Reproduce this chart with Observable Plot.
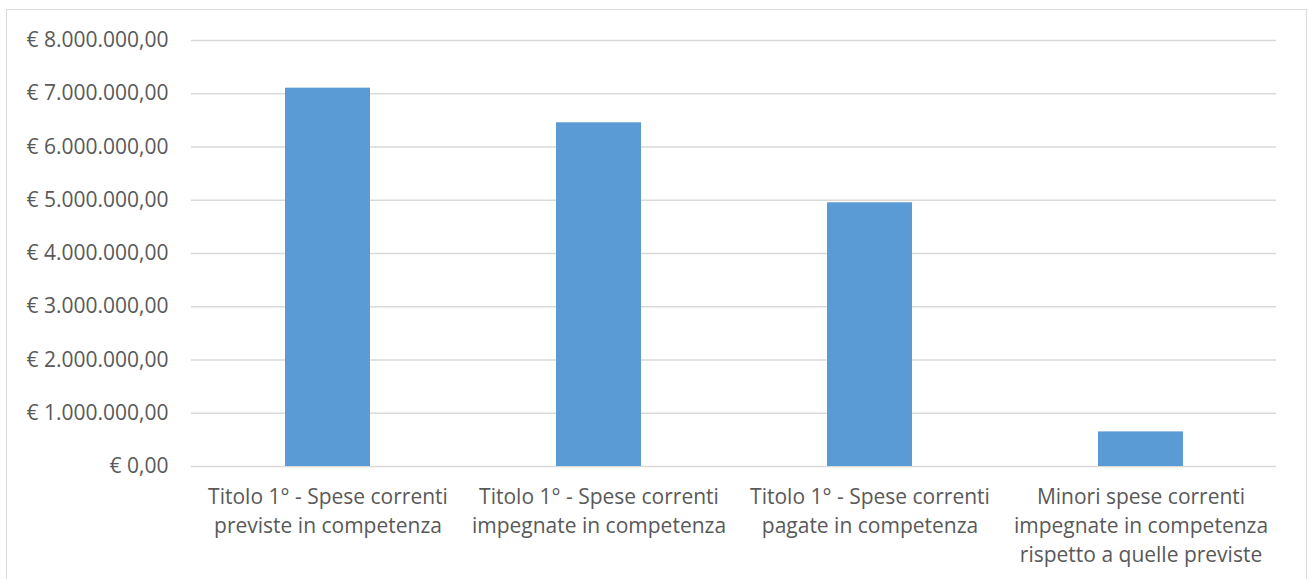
<!DOCTYPE html>
<html><head><meta charset="utf-8">
<script src="https://cdn.jsdelivr.net/npm/d3@7"></script>
<script src="https://cdn.jsdelivr.net/npm/@observablehq/plot@0.6"></script>
<style>
body{margin:0;background:#fff;}
#wrap{position:relative;width:1309px;height:579px;overflow:hidden;background:#fff;}
#border{position:absolute;left:6px;top:9px;width:1301px;height:620px;border:1px solid #d9d9d9;box-sizing:border-box;}
#chart{position:absolute;left:0;top:0;}
</style></head><body>
<div id="wrap"><div id="border"></div><div id="chart"></div></div>
<script>
const categories = [
  "Titolo 1° - Spese correnti\npreviste in competenza",
  "Titolo 1° - Spese correnti\nimpegnate in competenza",
  "Titolo 1° - Spese correnti\npagate in competenza",
  "Minori spese correnti\nimpegnate in competenza\nrispetto a quelle previste"
];
const values = [7105000, 6455000, 4953000, 650000];
const yTicks = [0, 1000000, 2000000, 3000000, 4000000, 5000000, 6000000, 7000000, 8000000];

const data = categories.map((c, i) => ({cat: c, value: values[i]}));
const locale = d3.formatLocale({decimal: ",", thousands: ".", grouping: [3], currency: ["€ ", ""]});
const fmt = locale.format("$,.2f");

const chart = Plot.plot({
  width: 1309,
  height: 579,
  marginLeft: 191,
  marginRight: 33,
  marginTop: 40,
  marginBottom: 113,
  style: {fontFamily: "'Open Sans', sans-serif", fontSize: "21px", color: "#595959", background: "transparent"},
  x: {domain: categories, paddingInner: 0.687, paddingOuter: 0.3435, label: null},
  y: {domain: [0, 8000000], label: null},
  marks: [
    Plot.ruleY(yTicks, {stroke: "#d9d9d9", strokeWidth: 1.3}),
    Plot.barY(data, {x: "cat", y: "value", fill: "#5B9BD5"}),
    Plot.axisY(yTicks, {tickSize: 0, tickPadding: 23, tickFormat: fmt, fontSize: 21, fill: "#595959"}),
    Plot.axisX({tickSize: 0, tickPadding: 17, lineHeight: 1.38, fontSize: 21, fill: "#595959"})
  ]
});
document.getElementById("chart").appendChild(chart);
</script>
</body></html>
